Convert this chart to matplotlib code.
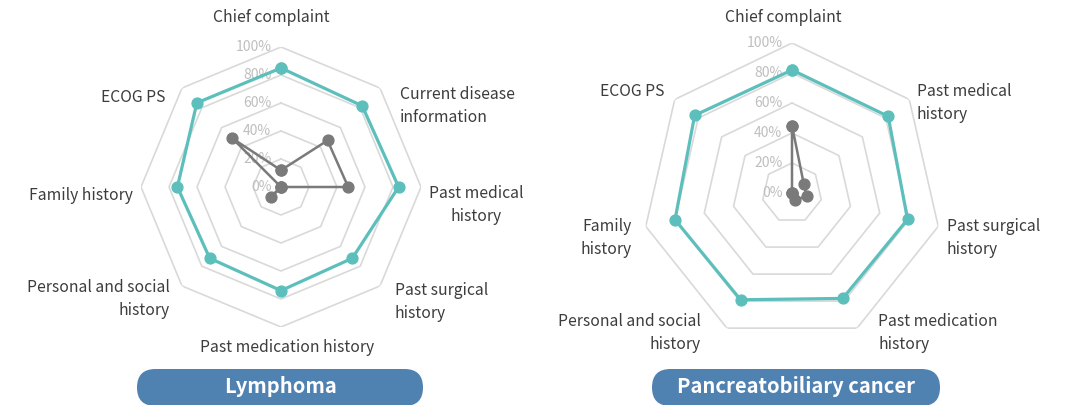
import numpy as np
import matplotlib
matplotlib.use("Agg")
import matplotlib.pyplot as plt
from matplotlib.patches import FancyBboxPatch

plt.rcParams['font.family'] = ['Noto Sans CJK KR', 'DejaVu Sans']

# ---- data ----
lym_cats = ['Chief complaint', 'Current disease\ninformation', 'Past medical\nhistory',
            'Past surgical\nhistory', 'Past medication history', 'Personal and social\nhistory',
            'Family history', 'ECOG PS']
lym_teal = [0.85, 0.82, 0.84, 0.72, 0.74, 0.72, 0.74, 0.85]
lym_grey = [0.12, 0.47, 0.48, 0.0, 0.0, 0.10, 0.0, 0.49]

pb_cats = ['Chief complaint', 'Past medical\nhistory', 'Past surgical\nhistory',
           'Past medication\nhistory', 'Personal and social\nhistory', 'Family\nhistory', 'ECOG PS']
pb_teal = [0.82, 0.82, 0.79, 0.78, 0.79, 0.80, 0.83]
pb_grey = [0.45, 0.10, 0.10, 0.05, 0.0, 0.0, 0.0]

ticks = [0, 0.2, 0.4, 0.6, 0.8, 1.0]
tick_labels = ['0%', '20%', '40%', '60%', '80%', '100%']

# ---- style ----
W, H = 1070, 405
TEAL = '#5cbfbc'
GREY = '#7a7a7a'
GRID = '#d9d9d9'
TXT = '#3c3c3c'
PILL = '#4f81b1'

fig = plt.figure(figsize=(W / 100, H / 100), dpi=100)
# overlay in pixel units for labels and title pills
bg = fig.add_axes([0, 0, 1, 1])
bg.set_xlim(0, W)
bg.set_ylim(H, 0)
bg.axis('off')


def radar(cx, cy, R, cats, teal, grey, label_pos, title, pill):
    ax = fig.add_axes([(cx - R) / W, (H - cy - R) / H, 2 * R / W, 2 * R / H], projection='polar')
    ax.set_theta_zero_location('N')
    ax.set_theta_direction(-1)
    ax.set_ylim(0, 1)
    ax.grid(False)
    ax.spines['polar'].set_visible(False)
    ax.set_xticks([])
    ax.set_yticks([])
    ax.patch.set_alpha(0)
    n = len(cats)
    th = np.linspace(0, 2 * np.pi, n, endpoint=False)
    thc = np.append(th, th[0])
    for t in ticks[1:]:
        ax.plot(thc, [t] * (n + 1), color=GRID, lw=1.2, zorder=1)
    for t, lab in zip(ticks, tick_labels):
        ax.annotate(lab, (0, t), xytext=(-7, 0), textcoords='offset points',
                    ha='right', va='center', color='#bfbfbf', fontsize=10, zorder=2)
    ax.plot(thc, teal + teal[:1], color=TEAL, lw=2.3, marker='o', ms=7.8, zorder=3, clip_on=False)
    ax.plot(thc, grey + grey[:1], color=GREY, lw=1.8, marker='o', ms=7.8, zorder=4, clip_on=False)
    for lab, (x, y, ha) in zip(cats, label_pos):
        bg.text(x, y, lab, ha=ha, va='center', multialignment=ha,
                color=TXT, fontsize=11.3, linespacing=1.4)
    x0, x1, y0, y1 = pill
    r = (y1 - y0) / 2
    bg.add_patch(FancyBboxPatch((x0, y0), x1 - x0, y1 - y0,
                                boxstyle=f'round,pad=0,rounding_size={r}',
                                facecolor=PILL, edgecolor='none'))
    bg.text((x0 + x1) / 2, (y0 + y1) / 2 - 1, title, ha='center', va='center',
            color='white', fontsize=14.5, fontweight='bold')


lym_lab = [(271, 18, 'center'), (400, 106, 'left'), (476, 205, 'center'), (395, 302, 'left'),
           (287, 348, 'center'), (170, 299, 'right'), (133, 196, 'right'), (165, 97, 'right')]
pb_lab = [(783, 18, 'center'), (917, 103, 'left'), (947, 238, 'left'), (878, 333, 'left'),
          (701, 333, 'right'), (632, 238, 'right'), (664, 91, 'right')]

radar(281, 187, 140, lym_cats, lym_teal, lym_grey, lym_lab, 'Lymphoma', (137, 423, 369, 406))
radar(792, 193, 150, pb_cats, pb_teal, pb_grey, pb_lab, 'Pancreatobiliary cancer', (652, 940, 369, 406))

fig.savefig('out.png', dpi=100)
